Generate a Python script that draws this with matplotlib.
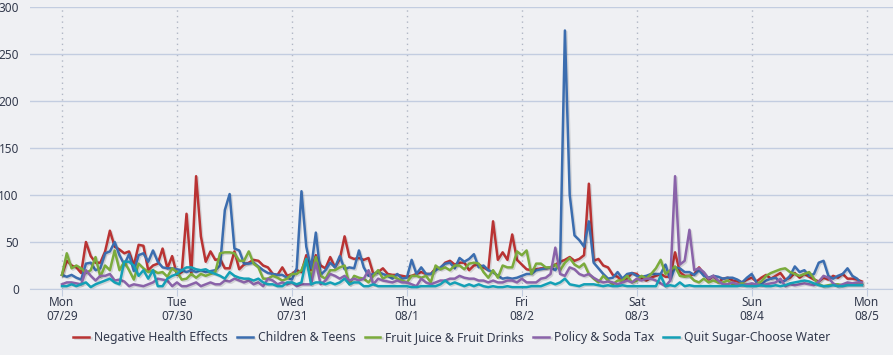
import numpy as np
import matplotlib.pyplot as plt
import matplotlib.patheffects as pe

# hourly counts, Mon 07/29 00:00 -> Sun 08/4 23:00
negative_health = [
    15, 30, 25, 23, 17, 50, 35, 28, 28, 40, 62, 45, 42, 38, 40, 25, 47, 46, 20, 25, 27, 43, 22, 35,
    15, 18, 80, 15, 120, 56, 29, 40, 31, 32, 22, 22, 40, 21, 26, 28, 31, 30, 25, 23, 16, 15, 23, 14,
    16, 20, 18, 36, 20, 36, 25, 22, 34, 23, 32, 56, 34, 32, 33, 31, 33, 16, 18, 22, 16, 15, 15, 14,
    13, 14, 16, 18, 16, 16, 22, 22, 28, 30, 26, 28, 28, 20, 25, 26, 23, 20, 72, 31, 39, 31, 58, 31,
    26, 21, 20, 21, 22, 22, 23, 26, 29, 31, 34, 30, 32, 36, 112, 30, 32, 25, 23, 15, 13, 8, 11, 17,
    16, 11, 9, 12, 14, 16, 13, 13, 39, 18, 14, 14, 16, 23, 16, 10, 14, 7, 11, 12, 9, 8, 7, 10,
    12, 8, 12, 15, 11, 14, 17, 10, 12, 17, 12, 16, 13, 10, 8, 12, 10, 14, 12, 16, 11, 11, 10, 8]
children_teens = [
    15, 13, 15, 12, 10, 27, 28, 20, 22, 38, 40, 50, 36, 26, 37, 19, 36, 38, 29, 41, 29, 23, 22, 22,
    21, 20, 18, 20, 18, 20, 18, 19, 20, 25, 84, 101, 43, 41, 27, 27, 28, 24, 20, 17, 16, 15, 15, 12,
    10, 22, 104, 45, 22, 60, 15, 20, 28, 23, 35, 21, 23, 22, 41, 23, 14, 16, 18, 16, 14, 11, 16, 11,
    12, 31, 16, 23, 16, 16, 20, 23, 27, 28, 22, 33, 29, 32, 37, 23, 25, 20, 18, 14, 11, 12, 11, 12,
    14, 16, 16, 20, 21, 22, 23, 20, 28, 275, 100, 57, 52, 45, 72, 28, 22, 16, 11, 12, 18, 11, 16, 17,
    14, 13, 14, 16, 16, 16, 26, 10, 23, 22, 18, 18, 15, 20, 14, 12, 14, 13, 11, 12, 12, 10, 7, 12,
    16, 7, 5, 9, 11, 12, 7, 9, 14, 24, 18, 20, 14, 16, 28, 30, 14, 11, 14, 16, 22, 14, 11, 5]
fruit_juice = [
    15, 38, 22, 25, 22, 17, 20, 34, 13, 25, 20, 41, 20, 29, 20, 10, 27, 22, 18, 20, 17, 18, 13, 22,
    18, 10, 11, 16, 12, 16, 14, 16, 18, 38, 39, 39, 38, 30, 30, 40, 27, 23, 11, 11, 14, 12, 9, 11,
    16, 16, 20, 32, 11, 34, 14, 11, 20, 20, 23, 25, 5, 14, 12, 11, 7, 14, 20, 11, 14, 14, 11, 9,
    7, 14, 14, 12, 14, 7, 25, 21, 23, 20, 25, 25, 21, 27, 28, 27, 18, 12, 20, 12, 25, 23, 23, 40,
    36, 41, 16, 27, 27, 23, 23, 26, 20, 28, 33, 26, 23, 27, 16, 11, 7, 14, 9, 5, 9, 9, 14, 7,
    9, 14, 11, 16, 22, 31, 16, 20, 24, 14, 13, 14, 9, 7, 11, 7, 9, 7, 7, 9, 5, 5, 6, 5,
    4, 5, 8, 14, 17, 19, 21, 22, 18, 16, 14, 16, 18, 11, 5, 3, 4, 5, 5, 4, 5, 5, 5, 5]
policy_soda_tax = [
    5, 7, 7, 6, 5, 20, 14, 9, 14, 14, 16, 9, 10, 8, 3, 5, 4, 3, 5, 7, 11, 10, 9, 3,
    7, 3, 3, 5, 7, 3, 5, 7, 5, 5, 9, 8, 11, 9, 7, 9, 5, 7, 3, 11, 9, 5, 7, 5,
    7, 3, 5, 5, 5, 28, 5, 9, 16, 14, 11, 14, 9, 11, 9, 11, 20, 5, 11, 9, 8, 7, 9, 7,
    7, 5, 3, 11, 7, 5, 7, 9, 9, 11, 11, 14, 12, 11, 11, 9, 9, 7, 9, 7, 7, 9, 9, 7,
    11, 7, 7, 7, 11, 12, 16, 44, 16, 14, 23, 21, 16, 14, 16, 12, 9, 7, 8, 7, 5, 7, 9, 7,
    11, 9, 11, 11, 9, 6, 3, 9, 120, 26, 30, 63, 20, 22, 18, 11, 14, 9, 5, 5, 7, 5, 4, 5,
    6, 5, 4, 5, 6, 7, 11, 3, 5, 4, 5, 6, 5, 4, 8, 14, 12, 6, 3, 5, 7, 6, 7, 7]
quit_sugar = [
    3, 3, 5, 3, 5, 7, 2, 5, 7, 9, 11, 7, 5, 29, 29, 25, 14, 20, 11, 20, 3, 3, 11, 14,
    16, 20, 23, 23, 21, 20, 21, 18, 16, 14, 11, 18, 14, 12, 11, 11, 9, 11, 7, 5, 5, 3, 3, 7,
    7, 5, 7, 32, 5, 7, 7, 5, 7, 5, 7, 11, 5, 7, 7, 3, 3, 5, 3, 3, 3, 3, 3, 3,
    3, 2, 2, 3, 3, 3, 3, 5, 9, 5, 7, 5, 3, 5, 3, 5, 3, 2, 3, 2, 2, 3, 2, 2,
    2, 2, 3, 3, 3, 5, 7, 5, 7, 11, 5, 4, 3, 5, 5, 5, 4, 3, 4, 3, 3, 4, 3, 3,
    3, 3, 3, 3, 3, 14, 3, 4, 3, 7, 3, 4, 3, 3, 3, 3, 3, 3, 3, 3, 3, 3, 4, 3,
    3, 3, 4, 3, 3, 4, 3, 4, 6, 7, 8, 9, 8, 6, 4, 3, 3, 4, 3, 3, 4, 4, 4, 4]

series_names = ["Negative Health Effects", "Children & Teens", "Fruit Juice & Fruit Drinks",
                "Policy & Soda Tax", "Quit Sugar-Choose Water"]
series_data = [negative_health, children_teens, fruit_juice, policy_soda_tax, quit_sugar]
colors = ["#b93333", "#3b6daf", "#7bab3c", "#8a63a9", "#14a0b6"]

day_ticks = [0, 24, 48, 72, 96, 120, 144, 168]
day_labels = ["Mon\n07/29", "Tue\n07/30", "Wed\n07/31", "Thu\n08/1",
              "Fri\n08/2", "Sat\n08/3", "Sun\n08/4", "Mon\n08/5"]

bg = "#eff0f3"
text_col = "#333a4d"
grid_col = "#c3cde0"

plt.rcParams['font.family'] = ['Noto Sans', 'DejaVu Sans']

fig = plt.figure(figsize=(8.93, 3.55), dpi=100, facecolor=bg)
ax = fig.add_axes([30 / 893, 66 / 355, 863 / 893, 282 / 355])
ax.set_facecolor(bg)

hours = np.arange(len(negative_health))
for name, vals, c in zip(series_names, series_data, colors):
    ax.plot(hours, vals, color=c, lw=1.8, label=name, solid_joinstyle="round",
            path_effects=[pe.SimpleLineShadow(offset=(1, -1), alpha=0.12, shadow_color="k"),
                          pe.Normal()])

ax.set_xlim(-6.68, 173.5)
ax.set_ylim(0, 300)
ax.set_yticks([0, 50, 100, 150, 200, 250, 300])
ax.set_xticks(day_ticks)
ax.set_xticklabels(day_labels, linespacing=1.1)

ax.grid(axis="y", color=grid_col, lw=1, zorder=0)
ax.grid(axis="x", color="#b0b6c4", lw=1, ls=(0, (1, 3)), zorder=0)
ax.set_axisbelow(True)
for s in ["top", "right", "left"]:
    ax.spines[s].set_visible(False)
ax.spines["bottom"].set_color(grid_col)
ax.tick_params(axis="y", length=0, pad=8, labelsize=8.5, labelcolor=text_col)
ax.tick_params(axis="x", length=5, color=grid_col, pad=0, labelsize=8.5, labelcolor=text_col)

fig.legend(loc="lower center", bbox_to_anchor=(0.506, 0.0), ncol=5, frameon=False,
           fontsize=8.8, labelcolor=text_col, handlelength=1.3, handletextpad=0.4,
           columnspacing=0.75)

fig.savefig("out.png", dpi=100, facecolor=bg)
